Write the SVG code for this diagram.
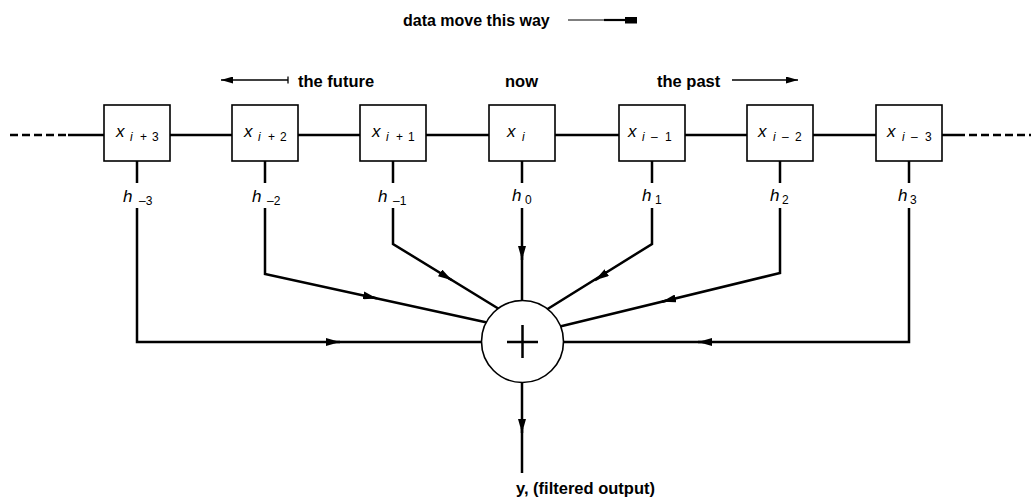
<svg xmlns="http://www.w3.org/2000/svg" width="1033" height="499" viewBox="0 0 1033 499">
<style>
.ln{fill:none;stroke:#000;stroke-width:2.5;stroke-linecap:butt}
.thin{fill:none;stroke:#000;stroke-width:1.3}
.box{fill:#fff;stroke:#000;stroke-width:1.6}
.lbl{font-family:"Liberation Sans",Arial,sans-serif;font-weight:bold;font-size:16.5px;fill:#000}
.var{font-family:"Liberation Sans",Arial,sans-serif;font-style:italic;font-size:17px;fill:#000}
.sub{font-family:"Liberation Sans",Arial,sans-serif;font-size:12px;fill:#000}
.subi{font-family:"Liberation Sans",Arial,sans-serif;font-style:italic;font-size:12px;fill:#000}
</style>
<defs>
<marker id="arr" markerUnits="userSpaceOnUse" viewBox="0 0 14 8" refX="14" refY="4" markerWidth="14" markerHeight="8" orient="auto">
<path d="M0,0 L14,4 L0,8 z" fill="#000"/>
</marker>
<marker id="arrs" markerUnits="userSpaceOnUse" viewBox="0 0 12 7" refX="12" refY="3.5" markerWidth="12" markerHeight="7" orient="auto">
<path d="M0,0 L12,3.5 L0,7 z" fill="#000"/>
</marker>
</defs>

<g id="legend">
<text class="lbl" x="403" y="26" style="font-size:16px">data move this way</text>
<path d="M568 20 H606" stroke="#000" stroke-width="1.2"/>
<path d="M604 20 H626" stroke="#000" stroke-width="2.2"/>
<rect x="625" y="17" width="12" height="6.5" fill="#000"/>
<text class="lbl" x="298" y="87">the future</text>
<path d="M288 80 H221" class="thin" marker-end="url(#arrs)"/>
<path d="M288 76.5 V83.5" stroke="#000" stroke-width="1.3"/>
<text class="lbl" x="521.5" y="87" text-anchor="middle">now</text>
<text class="lbl" x="657" y="87">the past</text>
<path d="M732 80 H798" class="thin" marker-end="url(#arrs)"/>
</g>

<g id="connectors">
<path class="ln" d="M10 135 H70" stroke-dasharray="8 4"/>
<path class="ln" d="M68 135 H957"/>
<path class="ln" d="M957 135 H1031" stroke-dasharray="8 4"/>
<path class="ln" d="M137 161 V183 M265 161 V183 M393 161 V183 M522 161 V183 M652 161 V183 M780 161 V183 M909 161 V183"/>
<path class="ln" d="M137 208 V342 H484"/>
<path class="ln" d="M265 208 V274 L487 322.5"/>
<path class="ln" d="M393 208 V244 L499 309"/>
<path class="ln" d="M522 208 V302"/>
<path class="ln" d="M652 208 V244 L546 310"/>
<path class="ln" d="M780 208 V273 L561 326.3"/>
<path class="ln" d="M909 208 V342 H561"/>
<path class="ln" d="M522 381 V473"/>
<path class="ln" d="M334 342 L340 342" marker-end="url(#arr)"/>
<path class="ln" d="M372.1 297.3 L377 298.4" marker-end="url(#arr)"/>
<path class="ln" d="M447.8 277.7 L452 280.3" marker-end="url(#arr)"/>
<path class="ln" d="M522 255 L522 260" marker-end="url(#arr)"/>
<path class="ln" d="M599.2 277.6 L595 280.3" marker-end="url(#arr)"/>
<path class="ln" d="M666.9 300.5 L662 301.7" marker-end="url(#arr)"/>
<path class="ln" d="M704 342 L698 342" marker-end="url(#arr)"/>
<path class="ln" d="M522 428 L522 433" marker-end="url(#arr)"/>
</g>

<g id="x_i3">
<rect class="box" x="104" y="105" width="66" height="56"/>
<text class="var" x="116" y="137">x</text><text class="subi" x="130" y="141">i</text><text class="sub" x="140" y="141">+</text><text class="sub" x="152" y="141">3</text>
</g>
<g id="x_i2">
<rect class="box" x="232" y="105" width="66" height="56"/>
<text class="var" x="244" y="137">x</text><text class="subi" x="258" y="141">i</text><text class="sub" x="268" y="141">+</text><text class="sub" x="280" y="141">2</text>
</g>
<g id="x_i1">
<rect class="box" x="360" y="105" width="66" height="56"/>
<text class="var" x="372" y="137">x</text><text class="subi" x="386" y="141">i</text><text class="sub" x="396" y="141">+</text><text class="sub" x="408" y="141">1</text>
</g>
<g id="x_i">
<rect class="box" x="489" y="105" width="66" height="56"/>
<text class="var" x="507" y="137">x</text><text class="subi" x="522" y="141">i</text>
</g>
<g id="x_im1">
<rect class="box" x="619" y="105" width="66" height="56"/>
<text class="var" x="628" y="137">x</text><text class="subi" x="642" y="141">i</text><text class="sub" x="651" y="141">–</text><text class="sub" x="665" y="141">1</text>
</g>
<g id="x_im2">
<rect class="box" x="747" y="105" width="66" height="56"/>
<text class="var" x="758" y="137">x</text><text class="subi" x="773" y="141">i</text><text class="sub" x="782" y="141">–</text><text class="sub" x="795" y="141">2</text>
</g>
<g id="x_im3">
<rect class="box" x="876" y="105" width="66" height="56"/>
<text class="var" x="887" y="137">x</text><text class="subi" x="902" y="141">i</text><text class="sub" x="911" y="141">–</text><text class="sub" x="925" y="141">3</text>
</g>

<g id="coefficients">
<text class="var" x="123" y="202">h</text><text class="sub" x="139" y="205">–3</text>
<text class="var" x="252" y="202">h</text><text class="sub" x="267" y="205">–2</text>
<text class="var" x="378" y="202">h</text><text class="sub" x="393" y="205">–1</text>
<text class="var" x="512" y="201">h</text><text class="sub" x="525" y="204">0</text>
<text class="var" x="642" y="201">h</text><text class="sub" x="655" y="204">1</text>
<text class="var" x="770" y="201">h</text><text class="sub" x="782" y="204">2</text>
<text class="var" x="898" y="201">h</text><text class="sub" x="910" y="204">3</text>
</g>

<g id="summer">
<circle cx="522.5" cy="341.5" r="41" fill="#fff" stroke="#000" stroke-width="1.6"/>
<path class="ln" d="M507 342 H538 M522.5 325 V358"/>
</g>

<g id="output">
<text class="lbl" x="516" y="494">y, (filtered output)</text>
</g>
</svg>
